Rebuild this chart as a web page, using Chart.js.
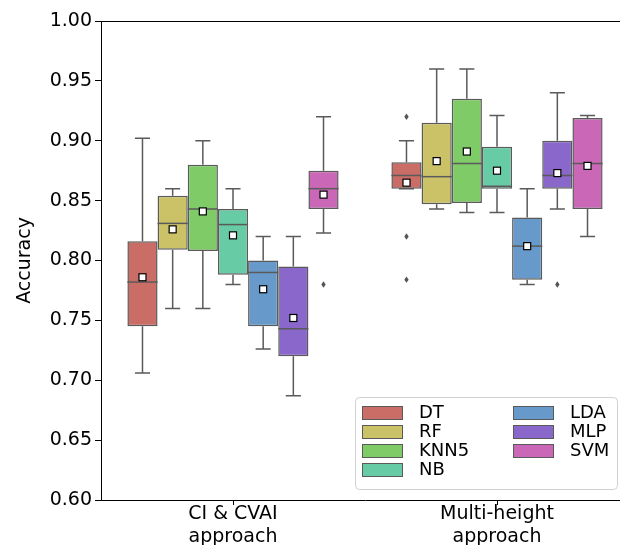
<!DOCTYPE html>
<html>
<head>
<meta charset="utf-8">
<script src="https://cdn.jsdelivr.net/npm/chart.js@4/dist/chart.umd.min.js"></script>
<style>
html,body{margin:0;padding:0;overflow:hidden;background:#fff;}
#wrap{width:640px;height:545px;position:relative;}
</style>
</head>
<body>
<div id="wrap"><canvas id="c"></canvas></div>
<script>
// ---- data ----
const categories = [['CI & CVAI', 'approach'], ['Multi-height', 'approach']];
const models = ['DT', 'RF', 'KNN5', 'NB', 'LDA', 'MLP', 'SVM'];
const colors = ['#cb6d67', '#cbc267', '#7ecb67', '#67cba6', '#679acb', '#8a67cb', '#cb67b7'];
const yTicks = [0.60, 0.65, 0.70, 0.75, 0.80, 0.85, 0.90, 0.95, 1.00];
// per model: [CI & CVAI, Multi-height]
const whiskerLow  = [[0.706, 0.860], [0.760, 0.843], [0.760, 0.840], [0.780, 0.840], [0.726, 0.780], [0.687, 0.843], [0.823, 0.820]];
const q1          = [[0.745, 0.860], [0.809, 0.847], [0.808, 0.848], [0.788, 0.860], [0.745, 0.784], [0.720, 0.860], [0.843, 0.843]];
const median      = [[0.782, 0.871], [0.831, 0.870], [0.843, 0.881], [0.830, 0.862], [0.790, 0.812], [0.743, 0.871], [0.860, 0.881]];
const q3          = [[0.816, 0.882], [0.854, 0.915], [0.880, 0.935], [0.843, 0.895], [0.800, 0.836], [0.795, 0.900], [0.875, 0.919]];
const whiskerHigh = [[0.902, 0.900], [0.860, 0.960], [0.900, 0.960], [0.860, 0.921], [0.820, 0.860], [0.820, 0.940], [0.920, 0.921]];
const means       = [[0.786, 0.865], [0.826, 0.883], [0.841, 0.891], [0.821, 0.875], [0.776, 0.812], [0.752, 0.873], [0.855, 0.879]];
const outliers    = [[[], [0.920, 0.820, 0.784]], [[], []], [[], []], [[], []], [[], []], [[], [0.780]], [[0.780], []]];

const FONT = 'DejaVu Sans';
const LINE = '#5a5a5a';

const datasets = models.map((m, i) => ({
  label: m,
  data: categories.map((c, j) => [q1[i][j], q3[i][j]]),
  backgroundColor: colors[i],
  borderColor: LINE,
  borderWidth: 1.5,
  borderSkipped: false,
  categoryPercentage: 0.8,
  barPercentage: 1.0
}));

const boxPlugin = {
  id: 'boxExtras',
  afterDatasetsDraw(chart) {
    const ctx = chart.ctx;
    const y = chart.scales.y;
    ctx.save();
    models.forEach((m, i) => {
      const meta = chart.getDatasetMeta(i);
      meta.data.forEach((el, j) => {
        const x = el.x, w = el.width;
        const left = x - w / 2, right = x + w / 2;
        ctx.strokeStyle = LINE;
        ctx.lineWidth = 1.5;
        // whiskers
        ctx.beginPath();
        ctx.moveTo(x, y.getPixelForValue(q3[i][j]));
        ctx.lineTo(x, y.getPixelForValue(whiskerHigh[i][j]));
        ctx.moveTo(x, y.getPixelForValue(q1[i][j]));
        ctx.lineTo(x, y.getPixelForValue(whiskerLow[i][j]));
        ctx.stroke();
        // caps
        ctx.beginPath();
        const yh = y.getPixelForValue(whiskerHigh[i][j]);
        const yl = y.getPixelForValue(whiskerLow[i][j]);
        ctx.moveTo(x - w / 4, yh); ctx.lineTo(x + w / 4, yh);
        ctx.moveTo(x - w / 4, yl); ctx.lineTo(x + w / 4, yl);
        ctx.stroke();
        // median
        const ym = y.getPixelForValue(median[i][j]);
        ctx.beginPath();
        ctx.moveTo(left, ym); ctx.lineTo(right, ym);
        ctx.stroke();
        // outliers (diamonds)
        ctx.fillStyle = '#555555';
        outliers[i][j].forEach(v => {
          const yo = y.getPixelForValue(v);
          ctx.beginPath();
          ctx.moveTo(x, yo - 3.2); ctx.lineTo(x + 2.2, yo); ctx.lineTo(x, yo + 3.2); ctx.lineTo(x - 2.2, yo);
          ctx.closePath();
          ctx.fill();
        });
        // mean marker
        const ymean = y.getPixelForValue(means[i][j]);
        ctx.fillStyle = '#ffffff';
        ctx.strokeStyle = '#000000';
        ctx.lineWidth = 1.2;
        ctx.fillRect(x - 3.5, ymean - 3.5, 7, 7);
        ctx.strokeRect(x - 3.5, ymean - 3.5, 7, 7);
      });
    });
    ctx.restore();
  },
  afterDraw(chart) {
    const ctx = chart.ctx;
    const a = chart.chartArea;
    ctx.save();
    // top + right spines
    ctx.strokeStyle = '#000';
    ctx.lineWidth = 1;
    ctx.beginPath();
    ctx.moveTo(a.left, a.top + 0.5); ctx.lineTo(a.right, a.top + 0.5);
    ctx.moveTo(a.right - 0.5, a.top); ctx.lineTo(a.right - 0.5, a.bottom);
    ctx.stroke();
    // legend
    const bx = a.right - 274, by = a.bottom - 103, bw = 262, bh = 92;
    ctx.fillStyle = 'rgba(255,255,255,0.85)';
    ctx.strokeStyle = '#d0d0d0';
    ctx.lineWidth = 1;
    ctx.beginPath();
    ctx.roundRect(bx + 0.5, by + 0.5, bw, bh, 4);
    ctx.fill();
    ctx.stroke();
    ctx.font = '18px "' + FONT + '"';
    ctx.textBaseline = 'middle';
    ctx.textAlign = 'left';
    models.forEach((m, i) => {
      const col = i < 4 ? 0 : 1;
      const row = i < 4 ? i : i - 4;
      const px = bx + 7 + col * 151;
      const py = by + 9 + row * 19;
      ctx.fillStyle = colors[i];
      ctx.fillRect(px, py, 40, 13);
      ctx.strokeStyle = LINE;
      ctx.lineWidth = 1;
      ctx.strokeRect(px + 0.5, py + 0.5, 40, 13);
      ctx.fillStyle = '#000';
      ctx.fillText(m, px + 57, py + 7);
    });
    ctx.restore();
  }
};

new Chart(document.getElementById('c'), {
  type: 'bar',
  data: { labels: categories, datasets: datasets },
  options: {
    responsive: true,
    maintainAspectRatio: false,
    devicePixelRatio: 1,
    animation: false,
    layout: { padding: { top: 21, right: 11, left: 0, bottom: 0 } },
    plugins: { legend: { display: false }, tooltip: { enabled: false } },
    scales: {
      x: {
        grid: { display: true, drawOnChartArea: false, drawTicks: true, tickLength: 5, color: '#000', offset: false },
        border: { display: true, color: '#000', width: 1 },
        ticks: { color: '#000', font: { family: FONT, size: 19, lineHeight: 1.2 }, padding: -2, maxRotation: 0 },
        afterFit(s) { s.height = 45; }
      },
      y: {
        min: 0.6, max: 1.0,
        afterBuildTicks(s) { s.ticks = yTicks.map(v => ({ value: v })); },
        grid: { display: true, drawOnChartArea: false, drawTicks: true, tickLength: 6, color: '#000' },
        border: { display: true, color: '#000', width: 1 },
        ticks: { color: '#000', font: { family: FONT, size: 19 }, padding: 3, callback: v => Number(v).toFixed(2) },
        title: { display: true, text: 'Accuracy', color: '#000', font: { family: FONT, size: 19 }, padding: { top: 14, bottom: 4 } },
        afterFit(s) { s.width = 101; }
      }
    }
  },
  plugins: [boxPlugin]
});
</script>
</body>
</html>
